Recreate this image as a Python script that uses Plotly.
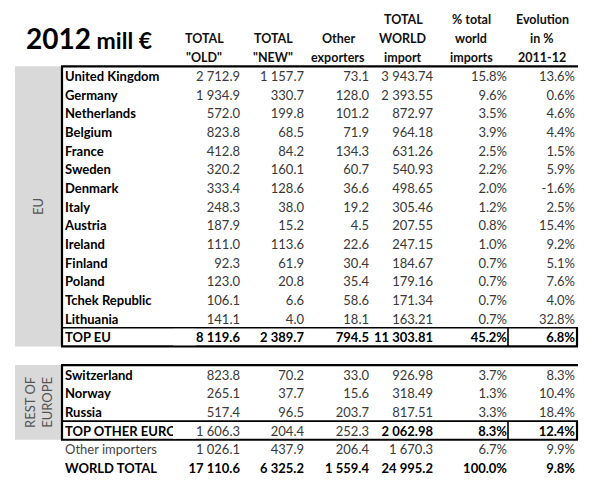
import plotly.graph_objects as go

# ---------------- data ----------------
countries = ["United Kingdom", "Germany", "Netherlands", "Belgium", "France", "Sweden",
             "Denmark", "Italy", "Austria", "Ireland", "Finland", "Poland",
             "Tchek Republic", "Lithuania", "TOP EU",
             "Switzerland", "Norway", "Russia", "TOP OTHER EUROPE",
             "Other importers", "WORLD TOTAL"]
row_index = [0, 1, 2, 3, 4, 5, 6, 7, 8, 9, 10, 11, 12, 13, 14,
             16, 17, 18, 19, 20, 21]
total_old = [2712.9, 1934.9, 572.0, 823.8, 412.8, 320.2, 333.4, 248.3, 187.9, 111.0,
             92.3, 123.0, 106.1, 141.1, 8119.6,
             823.8, 265.1, 517.4, 1606.3, 1026.1, 17110.6]
total_new = [1157.7, 330.7, 199.8, 68.5, 84.2, 160.1, 128.6, 38.0, 15.2, 113.6,
             61.9, 20.8, 6.6, 4.0, 2389.7,
             70.2, 37.7, 96.5, 204.4, 437.9, 6325.2]
other_exporters = [73.1, 128.0, 101.2, 71.9, 134.3, 60.7, 36.6, 19.2, 4.5, 22.6,
                   30.4, 35.4, 58.6, 18.1, 794.5,
                   33.0, 15.6, 203.7, 252.3, 206.4, 1559.4]
world_import = [3943.74, 2393.55, 872.97, 964.18, 631.26, 540.93, 498.65, 305.46, 207.55, 247.15,
                184.67, 179.16, 171.34, 163.21, 11303.81,
                926.98, 318.49, 817.51, 2062.98, 1670.3, 24995.2]
pct_world = [15.8, 9.6, 3.5, 3.9, 2.5, 2.2, 2.0, 1.2, 0.8, 1.0,
             0.7, 0.7, 0.7, 0.7, 45.2,
             3.7, 1.3, 3.3, 8.3, 6.7, 100.0]
evolution = [13.6, 0.6, 4.6, 4.4, 1.5, 5.9, -1.6, 2.5, 15.4, 9.2,
             5.1, 7.6, 4.0, 32.8, 6.8,
             8.3, 10.4, 18.4, 12.4, 9.9, 9.8]
bold_rows = ["TOP EU", "TOP OTHER EUROPE", "WORLD TOTAL"]
plain_label_rows = ["Other importers"]

headers = [["TOTAL", "\"OLD\""], ["TOTAL", "\"NEW\""], ["Other", "exporters"],
           ["TOTAL", "WORLD", "import"], ["% total", "world", "imports"],
           ["Evolution", "in %", "2011-12"]]
title_year = "2012"
title_unit = "mill €"
group_eu = "EU"
group_rest = "REST OF<br>EUROPE"

# ---------------- layout constants ----------------
FONT = "Lato"
FS = 13
HFS = 12.5
NUM_COLOR = "#383838"
LABEL_X = 65
COL_RIGHT = [240, 304, 369, 433, 507, 575]
COL_CENTER = [204, 273, 338, 403, 471, 542]
TABLE_L, TABLE_R = 62, 578
GRAY_L = 15
Y0_PX, PITCH = 75.7, 18.67
TEXT_DY = 0.11
H, W = 492, 600


def fmt(v, pct=False):
    s = repr(float(v))
    neg = s.startswith("-")
    s = s.lstrip("-")
    ip, dp = s.split(".")
    ip = f"{int(ip):,}".replace(",", " ")
    out = ("-" if neg else "") + ip + "." + dp
    return out + ("%" if pct else "")


def b(t, on):
    return f"<b>{t}</b>" if on else t


fig = go.Figure()
text_y = [r + TEXT_DY for r in row_index]

# labels
lab_text = [c if c in plain_label_rows else f"<b>{c}</b>" for c in countries]
fig.add_trace(go.Scatter(
    x=[LABEL_X] * len(countries), y=text_y, mode="text", text=lab_text,
    textposition="middle right",
    textfont=dict(family=FONT, size=FS,
                  color=["#444444" if c in plain_label_rows else "#000000" for c in countries]),
    hoverinfo="skip", showlegend=False, cliponaxis=False))

columns = [(total_old, False), (total_new, False), (other_exporters, False),
           (world_import, False), (pct_world, True), (evolution, True)]
for ci, (vals, pct) in enumerate(columns):
    txt, cols = [], []
    for c, v in zip(countries, vals):
        isb = c in bold_rows
        if c == "TOP OTHER EUROPE" and ci in (0, 1, 2):
            isb = False
        txt.append(b(fmt(v, pct), isb))
        cols.append("#000000" if isb else NUM_COLOR)
    fig.add_trace(go.Scatter(
        x=[COL_RIGHT[ci]] * len(vals), y=text_y, mode="text", text=txt,
        textposition="middle left",
        textfont=dict(family=FONT, size=FS, color=cols),
        hoverinfo="skip", showlegend=False, cliponaxis=False))

# headers
annotations = []
for ci, lines in enumerate(headers):
    n = len(lines)
    for li, t in enumerate(lines):
        annotations.append(dict(
            x=COL_CENTER[ci], y=-n + li, text=f"<b>{t}</b>", showarrow=False,
            xanchor="center", yanchor="middle",
            font=dict(family=FONT, size=HFS, color="#111111")))

annotations.append(dict(
    x=24, y=-2, xanchor="left", yanchor="middle", showarrow=False,
    text=f"<b><span style='font-size:28px'>{title_year}</span> {title_unit}</b>",
    font=dict(family=FONT, size=23, color="#000000")))

eu_rows = [r for r in row_index if r <= 14]
rest_rows = [r for r in row_index if 16 <= r <= 19]
eu_top, eu_bot = min(eu_rows) - 0.5, max(eu_rows) + 0.5
re_top, re_bot = min(rest_rows) - 0.5, max(rest_rows) + 0.5

annotations.append(dict(
    x=(GRAY_L + TABLE_L) / 2, y=(eu_top + eu_bot) / 2, text=group_eu, textangle=-90,
    showarrow=False, font=dict(family=FONT, size=FS, color="#555555")))
annotations.append(dict(
    x=(GRAY_L + TABLE_L) / 2, y=(re_top + re_bot) / 2, text=group_rest, textangle=-90,
    showarrow=False, font=dict(family=FONT, size=FS, color="#555555")))

shapes = []
for t, bt in [(eu_top, eu_bot), (re_top, re_bot)]:
    shapes.append(dict(type="rect", x0=GRAY_L, x1=TABLE_L, y0=t, y1=bt,
                       fillcolor="#d9d9d9", line=dict(width=0), layer="below"))


def hline(y, w):
    shapes.append(dict(type="line", x0=TABLE_L - 1, x1=TABLE_R, y0=y, y1=y,
                       line=dict(color="black", width=w)))


def vline(x, y0, y1, w):
    shapes.append(dict(type="line", x0=x, x1=x, y0=y0, y1=y1,
                       line=dict(color="black", width=w)))


tot_eu = row_index[countries.index("TOP EU")]
tot_re = row_index[countries.index("TOP OTHER EUROPE")]
hline(eu_top, 2.2)
hline(tot_eu - 0.5, 1.6)
hline(eu_bot, 2.2)
vline(TABLE_L, eu_top, eu_bot, 2.2)
hline(re_top, 2.2)
hline(tot_re - 0.5, 1.6)
hline(re_bot, 2.2)
vline(TABLE_L, re_top, re_bot, 2.2)
for tr in (tot_eu, tot_re):
    vline(508, tr - 0.5, tr + 0.5, 1.6)
    vline(577, tr - 0.5, tr + 0.5, 2.2)
    # clip overflowing label text at the first column boundary
    shapes.append(dict(type="rect", x0=173, x1=196, y0=tr - 0.44, y1=tr + 0.44,
                       fillcolor="white", line=dict(width=0), layer="above"))

fig.update_layout(
    width=W, height=H, margin=dict(l=0, r=0, t=0, b=0),
    paper_bgcolor="white", plot_bgcolor="white",
    xaxis=dict(range=[0, W], visible=False, fixedrange=True),
    yaxis=dict(range=[(H - Y0_PX) / PITCH, (0 - Y0_PX) / PITCH], visible=False, fixedrange=True),
    shapes=shapes, annotations=annotations, showlegend=False)

fig.write_html("out.html", config={"displayModeBar": False},
               post_script="document.body.style.margin='0';document.body.style.overflow='hidden';")
